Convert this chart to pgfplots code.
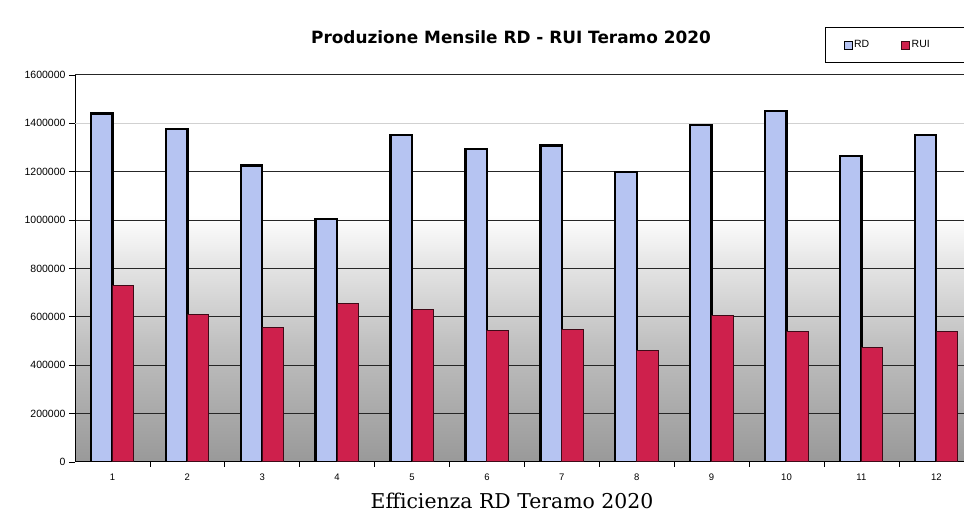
\documentclass[border=0pt]{standalone}
\usepackage{fontspec}
\setmainfont{DejaVu Serif}
\setsansfont{Liberation Sans}
\newfontfamily\titlefont{DejaVu Sans}
\usepackage{pgfplots}
\pgfplotsset{compat=1.18}

\definecolor{rdblue}{RGB}{182,196,242}
\definecolor{ruired}{RGB}{206,32,76}

% plot-area background: white above, greying towards the base
\pgfdeclareverticalshading{chartbg}{100bp}{color(0bp)=(gray!80); color(25bp)=(gray!80); color(40bp)=(gray!50); color(50bp)=(gray!22); color(57bp)=(white); color(100bp)=(white)}

\begin{document}
\begin{tikzpicture}
\useasboundingbox (-75pt,-54pt) rectangle (889pt,462pt);
\begin{axis}[
  scale only axis, width=889pt, height=387pt,
  xmin=0.5, xmax=12.37, ymin=0, ymax=1600000,
  axis background/.style={shading=chartbg},
  ybar=0pt, bar width=21.5pt,
  axis x line*=bottom, axis y line*=left,
  axis line style={black, line width=1pt},
  xtick={1,...,12},
  major x tick style={draw=none},
  minor xtick={1.5,2.5,...,11.5},
  minor x tick style={black, line width=0.6pt},
  minor tick length=5pt,
  tick align=outside,
  ytick={0,200000,400000,600000,800000,1000000,1200000,1600000},
  extra y ticks={1400000},
  extra y tick style={major grid style={black!18, line width=0.8pt}},
  major tick length=6pt,
  y tick style={black, line width=0.8pt},
  ymajorgrids,
  grid style={black!85, line width=1pt},
  scaled y ticks=false,
  /pgf/number format/.cd, fixed, 1000 sep={}, assume math mode=true,
  /pgfplots/.cd,
  yticklabel style={font=\sffamily\fontsize{10.5}{12}\selectfont},
  xticklabel style={font=\sffamily\fontsize{9.5}{11}\selectfont, yshift=-2pt},
  legend style={at={(0.8436,1.124)}, anchor=north west, legend columns=2,
    draw=black, line width=1.2pt, fill=white,
    inner xsep=18pt, inner ysep=11pt,
    font=\sffamily\fontsize{10.5}{12}\selectfont,
    /tikz/every even column/.append style={column sep=30pt}},
  legend image code/.code={\draw[#1, line width=0.5pt] (0pt,-4pt) rectangle (8pt,4pt);},
]
\addplot[fill=rdblue, draw=black, line width=2.4pt] coordinates {
  (1,1441000) (2,1377000) (3,1225000) (4,1005000) (5,1352000) (6,1293000)
  (7,1308000) (8,1198000) (9,1393000) (10,1452000) (11,1264000) (12,1351000)};
\addplot[fill=ruired, draw=black!70!ruired, line width=1pt] coordinates {
  (1,729000) (2,608000) (3,557000) (4,656000) (5,632000) (6,542000)
  (7,549000) (8,459000) (9,606000) (10,539000) (11,472000) (12,539000)};
\legend{RD, RUI\hspace*{24pt}}
\end{axis}
\node[font=\titlefont\bfseries\fontsize{16.9}{20}\selectfont] at (436pt,425pt) {Produzione Mensile RD - RUI Teramo 2020};
\node[font=\rmfamily\fontsize{20.4}{24}\selectfont] at (437pt,-39pt) {Efficienza RD Teramo 2020};
\end{tikzpicture}
\end{document}
